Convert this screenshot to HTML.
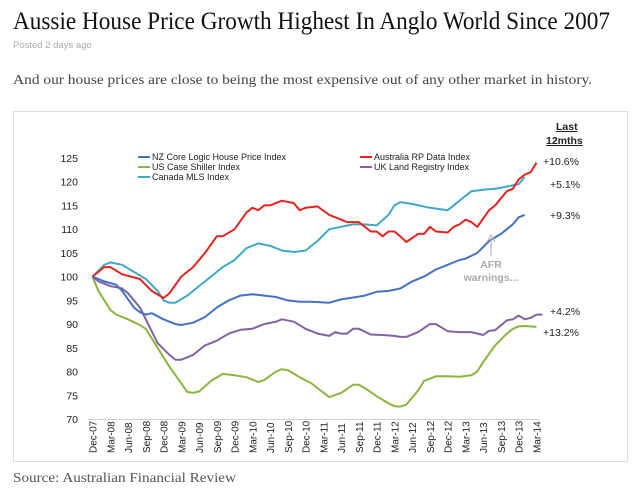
<!DOCTYPE html>
<html><head><meta charset="utf-8"><style>html,body{margin:0;padding:0;background:#fff;width:640px;height:493px;overflow:hidden}</style></head>
<body>
<svg id="s" width="640" height="493" xmlns="http://www.w3.org/2000/svg" font-family="Liberation Sans, Arial, sans-serif">
<text x="13" y="29" font-family="Liberation Serif, serif" font-size="25" fill="#111" textLength="597" lengthAdjust="spacingAndGlyphs">Aussie House Price Growth Highest In Anglo World Since 2007</text>
<text x="13" y="48" font-size="9.5" fill="#aaa">Posted 2 days ago</text>
<text x="13" y="84" font-family="Liberation Serif, serif" font-size="14" fill="#444" textLength="579" lengthAdjust="spacingAndGlyphs">And our house prices are close to being the most expensive out of any other market in history.</text>
<rect x="13.5" y="111.5" width="614" height="350" fill="#fff" stroke="#ddd"/>
<text x="13" y="482" font-family="Liberation Serif, serif" font-size="14" fill="#555" textLength="223" lengthAdjust="spacingAndGlyphs">Source: Australian Financial Review</text>
<line x1="88" y1="419.5" x2="540" y2="419.5" stroke="#d0d0d0"/>
<g id="yl" font-size="10.5" fill="#222" text-anchor="end"></g>
<g id="xl" font-size="10" fill="#222"></g>
<g id="lines" fill="none" stroke-width="2" stroke-linejoin="round"></g>
<g font-size="9" fill="#222">
<line x1="138" y1="157" x2="150" y2="157" stroke="#4472c4" stroke-width="2"/><text x="152" y="160">NZ Core Logic House Price Index</text>
<line x1="138" y1="167" x2="150" y2="167" stroke="#8db43e" stroke-width="2"/><text x="152" y="170">US Case Shiller Index</text>
<line x1="138" y1="177" x2="150" y2="177" stroke="#3fa9c5" stroke-width="2"/><text x="152" y="180">Canada MLS Index</text>
<line x1="360" y1="157" x2="372" y2="157" stroke="#e8231f" stroke-width="2"/><text x="374" y="160">Australia RP Data Index</text>
<line x1="360" y1="167" x2="372" y2="167" stroke="#8064a2" stroke-width="2"/><text x="374" y="170">UK Land Registry Index</text>
</g>
<g font-size="10.5" fill="#222">
<text x="556" y="130" font-weight="bold" text-decoration="underline">Last</text>
<text x="546" y="144" font-weight="bold" text-decoration="underline">12mths</text>
<text x="543" y="165">+10.6%</text>
<text x="550" y="188">+5.1%</text>
<text x="550" y="219">+9.3%</text>
<text x="550" y="315">+4.2%</text>
<text x="543" y="336">+13.2%</text>
</g>
<line x1="491" y1="256" x2="491" y2="238" stroke="#bbb" stroke-width="1.2"/>
<path d="M487,242 L491,235 L495,242" fill="none" stroke="#bbb" stroke-width="1.2"/>
<text x="491" y="268" font-size="10.5" font-weight="bold" fill="#aaa" text-anchor="middle">AFR</text>
<text x="491" y="281" font-size="10.5" font-weight="bold" fill="#aaa" text-anchor="middle">warnings...</text>
</svg>
<script>
var X=function(m){return 92.5+m*5.92},Y=function(v){return 158+(125-v)*4.745};
var yl=document.getElementById('yl'),xl=document.getElementById('xl'),L=document.getElementById('lines');
var ns='http://www.w3.org/2000/svg';
for(var v=70;v<=125;v+=5){var t=document.createElementNS(ns,'text');t.setAttribute('x',78);t.setAttribute('y',Y(v)+4);t.textContent=v;yl.appendChild(t);}
var mo=['Dec','Mar','Jun','Sep'];
for(var q=0;q<=25;q++){var yr=7+Math.floor((q+3)/4);var lab=mo[q%4]+'-'+(yr<10?'0':'')+(q%4==0?yr-1+1-1+ (0):yr);}
for(var q=0;q<=25;q++){var i=q%4;var y=(q==0)?7:7+Math.ceil(q/4);if(i==0)y=7+q/4;var lab=mo[i]+'-'+(y<10?'0'+y:y);
var t=document.createElementNS(ns,'text');var x=X(q*3)+4;t.setAttribute('transform','translate('+x+',453) rotate(-90)');t.textContent=lab;xl.appendChild(t);}
var S={
'#e8231f':[[0,100],[2,102],[3,102],[5,100.5],[8,99.5],[10,97],[12,95.5],[13,96.5],[15,100],[17,102],[19,105],[21,108.5],[22,108.5],[24,110],[26,113.5],[27,114.5],[28,114],[29,115],[30,115],[32,116],[34,115.5],[35,114],[36,114.5],[38,114.8],[40,113],[43,111.5],[45,111.5],[46,110.5],[47,109.5],[48,109.5],[49,108.5],[50,109.5],[51,109.5],[52,108.5],[53,107.3],[55,109],[56,109],[57,110.5],[58,109.5],[60,109.3],[61,110.5],[62,111],[63,112],[64,111.5],[65,110.5],[67,114],[68,115],[70,118],[71,118.5],[72,120.5],[73,121.5],[74,122],[75,124]],
'#3fa9c5':[[0,100],[2,102.5],[3,103],[5,102.5],[7,101],[9,99.5],[11,97],[12,95],[13,94.5],[14,94.5],[16,96],[18,98],[20,100],[22,102],[24,103.5],[26,106],[28,107],[30,106.5],[32,105.5],[34,105.2],[36,105.5],[38,107.5],[40,110],[42,110.5],[44,111],[46,111],[48,110.8],[50,113],[51,115],[52,115.7],[54,115.3],[57,114.5],[60,114],[62,116],[64,118],[66,118.3],[68,118.5],[70,119],[72,119.5],[73,121]],
'#4472c4':[[0,100],[2,99],[4,98.3],[5,97],[7,93.5],[8,92.5],[9,92],[10,92.3],[12,91],[14,90],[15,89.8],[17,90.3],[19,91.5],[21,93.5],[23,95],[25,96],[27,96.3],[29,96],[31,95.7],[33,95],[35,94.7],[37,94.7],[40,94.5],[42,95.2],[45,95.8],[46,96],[48,96.8],[50,97],[52,97.5],[54,99],[56,100],[58,101.5],[60,102.5],[62,103.5],[63,103.8],[65,105],[67,107.5],[69,109],[71,111],[72,112.5],[73,113]],
'#8064a2':[[0,100],[1,99],[3,98],[4,97.8],[5,97.5],[6,96.5],[8,93.5],[10,88.5],[11,86],[13,83.5],[14,82.5],[15,82.5],[17,83.5],[19,85.5],[21,86.5],[23,88],[25,88.8],[27,89],[29,90],[31,90.5],[32,91],[34,90.5],[36,89],[38,88],[40,87.5],[41,88.3],[42,88],[43,88],[44,89],[45,89],[47,87.8],[49,87.7],[51,87.5],[52,87.3],[53,87.3],[55,88.3],[57,90],[58,90],[60,88.5],[62,88.3],[64,88.3],[66,87.7],[67,88.6],[68,88.7],[70,90.8],[71,91],[72,91.8],[73,91],[74,91.3],[75,92],[76,92]],
'#8db43e':[[0,100],[1,97],[3,93],[4,92],[6,91],[8,89.8],[9,89],[11,85],[13,81],[15,77.5],[16,75.7],[17,75.5],[18,75.8],[20,78],[22,79.5],[24,79.2],[26,78.8],[28,77.8],[29,78.2],[31,80],[32,80.5],[33,80.3],[35,78.8],[37,77.5],[38,76.5],[40,74.6],[42,75.5],[44,77.2],[45,77.2],[46,76.5],[48,74.8],[50,73.3],[51,72.7],[52,72.6],[53,73],[55,76],[56,78],[58,79],[60,79],[62,78.9],[64,79.2],[65,80],[66,82],[68,85.5],[70,88],[71,89],[72,89.5],[73,89.6],[75,89.4]]};
var order=['#8db43e','#8064a2','#4472c4','#3fa9c5','#e8231f'];
order.forEach(function(c){var d=S[c].map(function(p,i){return (i?'L':'M')+X(p[0]).toFixed(1)+','+Y(p[1]).toFixed(1)}).join('');
var p=document.createElementNS(ns,'path');p.setAttribute('d',d);p.setAttribute('stroke',c);L.appendChild(p);});
</script>
</body></html>
